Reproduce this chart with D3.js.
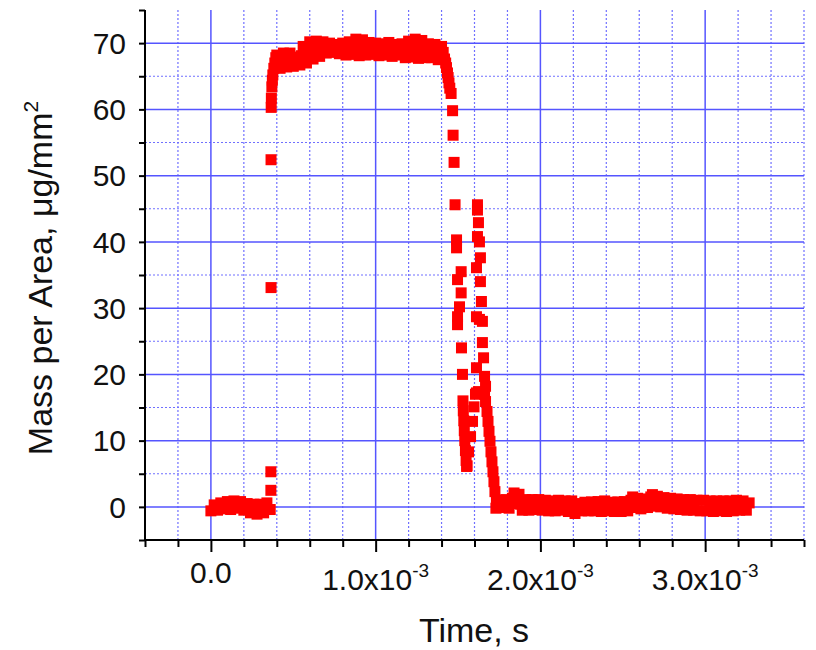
<!DOCTYPE html>
<html>
<head>
<meta charset="utf-8">
<script src="https://cdn.jsdelivr.net/npm/d3@7"></script>
<style>
  body { margin: 0; background: #fff; }
  text { font-family: "Liberation Sans", Arial, sans-serif; }
</style>
</head>
<body>
<svg id="chart" width="816" height="650"></svg>
<script>
// time in units of 1e-3 s, mass per area in ug/mm^2
const baselineBefore = [
  [0.00, -0.6], [0.02, 0.3], [0.04, -0.5], [0.06, 0.6], [0.08, -0.3], [0.10, 0.8],
  [0.12, -0.4], [0.14, 0.9], [0.16, -0.2], [0.18, 0.8], [0.20, -0.5], [0.22, 0.5],
  [0.24, -0.9], [0.26, 0.4], [0.28, -1.1], [0.30, 0.4], [0.32, -0.9], [0.34, 0.6],
  [0.36, -0.4]
];
const rise = [
  [0.364, 2.5], [0.364, 5.3], [0.365, 33.1], [0.365, 52.4], [0.366, 60.3], [0.367, 61.7],
  [0.370, 63.4], [0.373, 64.4], [0.376, 65.2], [0.382, 66.2], [0.388, 67.0], [0.394, 67.8],
  [0.400, 68.2]
];
const plateau = [
  [0.41, 67.2], [0.42, 66.2], [0.43, 67.3], [0.44, 68.5], [0.45, 67.4], [0.46, 66.4],
  [0.47, 67.5], [0.48, 68.5], [0.49, 67.5], [0.50, 66.5], [0.51, 67.2], [0.52, 67.9],
  [0.53, 67.3], [0.54, 66.7], [0.55, 68.1], [0.56, 69.5], [0.57, 68.2], [0.58, 67.0],
  [0.59, 68.6], [0.60, 70.2], [0.61, 68.9], [0.62, 67.6], [0.63, 69.0], [0.64, 70.3],
  [0.65, 69.1], [0.66, 68.0], [0.67, 69.1], [0.68, 70.2], [0.69, 69.3], [0.70, 68.5],
  [0.71, 69.2], [0.72, 70.0], [0.73, 69.3], [0.74, 68.6], [0.75, 69.2], [0.76, 69.8],
  [0.77, 69.1], [0.78, 68.4], [0.79, 69.2], [0.80, 70.0], [0.81, 69.1], [0.82, 68.2],
  [0.83, 69.2], [0.84, 70.2], [0.85, 69.2], [0.86, 68.3], [0.87, 69.4], [0.88, 70.6],
  [0.89, 69.3], [0.90, 68.1], [0.91, 69.3], [0.92, 70.5], [0.93, 69.3], [0.94, 68.2],
  [0.95, 69.1], [0.96, 70.1], [0.97, 69.2], [0.98, 68.3], [0.99, 69.1], [1.00, 70.0],
  [1.01, 69.0], [1.02, 68.1], [1.03, 69.0], [1.04, 69.9], [1.05, 69.0], [1.06, 68.2],
  [1.07, 69.1], [1.08, 70.1], [1.09, 69.0], [1.10, 68.0], [1.11, 68.9], [1.12, 69.8],
  [1.13, 69.0], [1.14, 68.2], [1.15, 69.0], [1.16, 69.9], [1.17, 68.8], [1.18, 67.8],
  [1.19, 69.0], [1.20, 70.3], [1.21, 69.1], [1.22, 67.9], [1.23, 69.2], [1.24, 70.6],
  [1.25, 69.1], [1.26, 67.7], [1.27, 69.0], [1.28, 70.4], [1.29, 69.1], [1.30, 67.8],
  [1.31, 68.8], [1.32, 69.9], [1.33, 68.8], [1.34, 67.8], [1.35, 68.8], [1.36, 69.8],
  [1.37, 68.6], [1.38, 67.5], [1.39, 68.5], [1.40, 69.5], [1.41, 68.6]
];
const fall = [
  [1.418, 67.6], [1.425, 67.0], [1.430, 66.3], [1.436, 65.5], [1.440, 64.8], [1.445, 64.0],
  [1.450, 63.2], [1.458, 62.4], [1.467, 59.8], [1.470, 56.1], [1.476, 52.0], [1.482, 45.6],
  [1.491, 40.3], [1.491, 39.1], [1.519, 35.5], [1.497, 34.3], [1.519, 32.3], [1.509, 30.2],
  [1.497, 28.7], [1.497, 27.5], [1.521, 24.0], [1.527, 20.0], [1.530, 16.0], [1.532, 14.5],
  [1.535, 13.0], [1.538, 11.5], [1.541, 10.0], [1.545, 8.5], [1.549, 7.0], [1.552, 6.1]
];
const secondPeak = [
  [1.555, 6.2], [1.564, 8.3], [1.576, 10.6], [1.588, 12.9], [1.597, 15.1], [1.606, 17.0],
  [1.612, 17.2], [1.612, 21.0], [1.612, 28.7], [1.612, 36.1], [1.618, 40.8], [1.618, 44.8],
  [1.618, 45.6], [1.624, 42.9], [1.624, 17.4], [1.630, 40.0], [1.636, 37.6], [1.636, 34.0],
  [1.642, 31.0], [1.630, 28.3], [1.648, 28.0], [1.648, 24.8], [1.655, 22.5], [1.661, 19.7],
  [1.667, 18.2], [1.661, 17.0], [1.667, 15.9], [1.676, 14.4], [1.682, 12.9], [1.688, 11.4],
  [1.694, 9.9], [1.700, 8.3], [1.706, 6.8], [1.712, 5.3], [1.718, 3.8], [1.724, 2.3],
  [1.733, 0.8]
];
const baselineAfter = [
  [1.73, -0.2], [1.75, 1.0], [1.77, -0.1], [1.79, 1.1], [1.81, -0.2], [1.83, 1.3],
  [1.84, 2.1], [1.85, 0.5], [1.87, 1.9], [1.88, 0.4], [1.89, -0.5], [1.91, 1.1],
  [1.93, -0.5], [1.95, 1.1], [1.97, -0.4], [1.99, 1.1], [2.01, -0.5], [2.03, 1.0],
  [2.05, -0.6], [2.07, 0.9], [2.09, -0.6], [2.11, 1.0], [2.13, -0.5], [2.15, 0.9],
  [2.17, -0.7], [2.18, 0.2], [2.19, 0.9], [2.20, -0.1], [2.21, -1.0], [2.23, 0.5],
  [2.25, -0.6], [2.27, 0.7], [2.29, -0.6], [2.31, 0.75], [2.33, -0.6], [2.35, 0.8],
  [2.37, -0.7], [2.39, 0.9], [2.41, -0.6], [2.43, 0.7], [2.45, -0.7], [2.47, 0.75],
  [2.49, -0.7], [2.51, 0.8], [2.53, -0.6], [2.55, 1.0], [2.56, 1.5], [2.57, -0.1],
  [2.59, 1.3], [2.61, -0.3], [2.63, 1.2], [2.65, -0.1], [2.67, 1.5], [2.68, 1.85],
  [2.69, 0.1], [2.71, 1.6], [2.73, 0.0], [2.75, 1.4], [2.77, -0.2], [2.79, 1.3],
  [2.81, -0.3], [2.83, 1.2], [2.85, -0.4], [2.87, 1.1], [2.89, -0.5], [2.91, 1.1],
  [2.93, -0.5], [2.95, 1.0], [2.97, -0.6], [2.99, 1.0], [3.01, -0.6], [3.03, 0.9],
  [3.05, -0.7], [3.07, 0.9], [3.09, -0.6], [3.11, 0.9], [3.13, -0.7], [3.15, 0.9],
  [3.17, -0.6], [3.19, 1.0], [3.21, -0.5], [3.23, 0.9], [3.25, -0.5], [3.267, 0.6]
];

const xMajorTicks = [0, 1, 2, 3];
const yMajorTicks = [0, 10, 20, 30, 40, 50, 60, 70];
const xTitle = 'Time, s';
const yTitle = 'Mass per Area, \u03bcg/mm';

const points = [].concat(baselineBefore, rise, plateau, fall, secondPeak, baselineAfter);

const svg = d3.select('#chart');
const margin = { left: 145, right: 12, top: 10, bottom: 110 };
const W = 816, H = 650;

const x = d3.scaleLinear().domain([-0.4, 3.6]).range([margin.left, W - margin.right]);
const y = d3.scaleLinear().domain([-5, 75]).range([H - margin.bottom, margin.top]);

const xMinor = d3.range(-0.4, 3.61, 0.2).map(v => +v.toFixed(1)).filter(v => !xMajorTicks.includes(v));
const yMinor = d3.range(-5, 76, 5).filter(v => !yMajorTicks.includes(v));

// grid
const grid = svg.append('g');
grid.selectAll('.vminor').data(xMinor.filter(v => v > -0.4)).join('line')
  .attr('x1', d => x(d)).attr('x2', d => x(d))
  .attr('y1', y(-5)).attr('y2', y(75))
  .attr('stroke', '#7070ff').attr('stroke-width', 1.2).attr('stroke-dasharray', '2,2');
grid.selectAll('.hminor').data(yMinor.filter(v => v < 75 && v > -5)).join('line')
  .attr('x1', x(-0.4)).attr('x2', x(3.6))
  .attr('y1', d => y(d)).attr('y2', d => y(d))
  .attr('stroke', '#7070ff').attr('stroke-width', 1.2).attr('stroke-dasharray', '2,2');
grid.selectAll('.vmajor').data(xMajorTicks).join('line')
  .attr('x1', d => x(d)).attr('x2', d => x(d))
  .attr('y1', y(-5)).attr('y2', y(75))
  .attr('stroke', '#5555ff').attr('stroke-width', 1.5);
grid.selectAll('.hmajor').data(yMajorTicks).join('line')
  .attr('x1', x(-0.4)).attr('x2', x(3.6))
  .attr('y1', d => y(d)).attr('y2', d => y(d))
  .attr('stroke', '#5555ff').attr('stroke-width', 1.5);

// data
const size = 11;
svg.append('g').selectAll('rect').data(points).join('rect')
  .attr('x', d => x(d[0]) - size / 2)
  .attr('y', d => y(d[1]) - size / 2)
  .attr('width', size).attr('height', size)
  .attr('fill', '#ff0000');

// axes
const styleAxis = g => {
  g.select('.domain').remove();
  g.selectAll('.tick line').attr('stroke', '#000').attr('stroke-width', 2);
  g.selectAll('.tick text').remove();
};
svg.append('g').attr('transform', `translate(0,${y(-5)})`)
  .call(d3.axisBottom(x).tickValues(xMajorTicks).tickSize(12)).call(styleAxis);
svg.append('g').attr('transform', `translate(0,${y(-5)})`)
  .call(d3.axisBottom(x).tickValues(xMinor).tickSize(7)).call(styleAxis);
svg.append('g').attr('transform', `translate(${x(-0.4)},0)`)
  .call(d3.axisLeft(y).tickValues(yMajorTicks).tickSize(6)).call(styleAxis);
svg.append('g').attr('transform', `translate(${x(-0.4)},0)`)
  .call(d3.axisLeft(y).tickValues(yMinor).tickSize(6)).call(styleAxis);

svg.append('line').attr('x1', x(-0.4) - 1).attr('x2', x(3.6))
  .attr('y1', y(-5)).attr('y2', y(-5)).attr('stroke', '#000').attr('stroke-width', 2);
svg.append('line').attr('x1', x(-0.4)).attr('x2', x(-0.4))
  .attr('y1', y(-5)).attr('y2', y(75)).attr('stroke', '#000').attr('stroke-width', 2);

// tick labels
svg.append('g').selectAll('text').data(yMajorTicks).join('text')
  .attr('x', x(-0.4) - 19).attr('y', d => y(d))
  .attr('dy', '0.36em')
  .attr('text-anchor', 'end').attr('font-size', 30).attr('fill', '#111')
  .text(d => d);

const xl = svg.append('g').selectAll('text').data(xMajorTicks).join('text')
  .attr('x', d => x(d))
  .attr('y', d => d === 0 ? 583 : 590)
  .attr('text-anchor', 'middle').attr('font-size', 30).attr('fill', '#111');
xl.each(function (d) {
  const t = d3.select(this);
  if (d === 0) { t.text('0.0'); return; }
  t.append('tspan').text(d.toFixed(1) + 'x10');
  t.append('tspan').attr('dy', -13).attr('font-size', 19).text('-3');
});

// titles
svg.append('text').attr('x', 474).attr('y', 642)
  .attr('text-anchor', 'middle').attr('font-size', 34).attr('fill', '#111')
  .text(xTitle);
const yt = svg.append('text')
  .attr('transform', `translate(52,${278}) rotate(-90)`)
  .attr('text-anchor', 'middle').attr('font-size', 34).attr('fill', '#111');
yt.append('tspan').text(yTitle);
yt.append('tspan').attr('dy', -14).attr('font-size', 21).text('2');
</script>
</body>
</html>
